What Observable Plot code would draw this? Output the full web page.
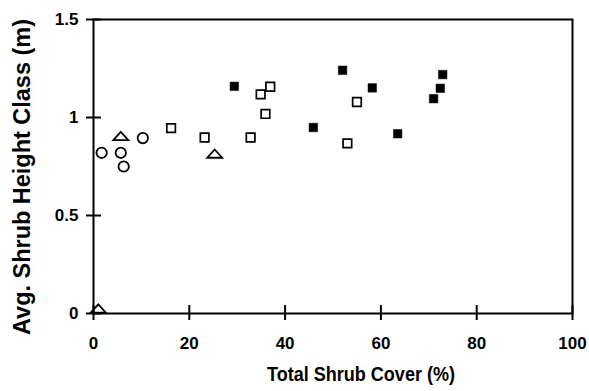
<!DOCTYPE html>
<html>
<head>
<meta charset="utf-8">
<script src="https://cdn.jsdelivr.net/npm/d3@7"></script>
<script src="https://cdn.jsdelivr.net/npm/@observablehq/plot@0.6"></script>
<style>
  html, body { margin: 0; padding: 0; background: #fff; }
  #chart { width: 589px; height: 391px; }
</style>
</head>
<body>
<div id="chart"></div>
<script>
const xLabel = "Total Shrub Cover (%)";
const yLabel = "Avg. Shrub Height Class (m)";
const xTicks = [0, 20, 40, 60, 80, 100];
const yTicks = [0, 0.5, 1, 1.5];
const yTickLabels = ["0", "0.5", "1", "1.5"];

const circleX = [1.7, 5.7, 6.3, 10.3];
const circleY = [0.82, 0.82, 0.75, 0.895];
const triangleX = [1.0, 5.7, 25.3];
const triangleY = [0.025, 0.905, 0.815];
const openSquareX = [16.2, 23.2, 32.8, 35.9, 34.9, 36.9, 55.0, 53.0];
const openSquareY = [0.946, 0.898, 0.898, 1.018, 1.118, 1.157, 1.079, 0.868];
const filledSquareX = [29.4, 45.9, 52.0, 58.2, 63.5, 72.9, 72.4, 71.0];
const filledSquareY = [1.159, 0.949, 1.241, 1.151, 0.917, 1.219, 1.149, 1.096];

const toRows = (xs, ys) => xs.map((x, i) => ({x, y: ys[i]}));
const circles = toRows(circleX, circleY);
const triangles = toRows(triangleX, triangleY);
const openSquares = toRows(openSquareX, openSquareY);
const filledSquares = toRows(filledSquareX, filledSquareY);

// flat open triangle symbol
const flatTriangle = {
  draw(context, size) {
    const r = Math.sqrt(size / Math.PI);
    context.moveTo(0, -0.85 * r);
    context.lineTo(1.5 * r, 0.8 * r);
    context.lineTo(-1.5 * r, 0.8 * r);
    context.closePath();
  }
};

const font = "bold";
const svg = Plot.plot({
  width: 589,
  height: 391,
  marginLeft: 93,
  marginRight: 17,
  marginTop: 19,
  marginBottom: 78,
  style: {fontFamily: "'Liberation Sans', Arial, sans-serif", background: "#fff", color: "#000"},
  x: {domain: [0, 100]},
  y: {domain: [0, 1.5]},
  marks: [
    Plot.frame({stroke: "black", strokeWidth: 2}),
    Plot.tickX(xTicks, {x: d => d, insetTop: 286, insetBottom: -7, stroke: "black", strokeWidth: 2}),
    Plot.tickY(yTicks, {y: d => d, insetLeft: -7, insetRight: 471, stroke: "black", strokeWidth: 2}),
    Plot.axisX(xTicks, {tickSize: 0, tickPadding: 23, fontSize: 17, fontWeight: font, label: null}),
    Plot.axisY(yTicks, {tickSize: 0, tickPadding: 15, fontSize: 17, fontWeight: font, label: null,
      tickFormat: d => yTickLabels[yTicks.indexOf(d)]}),
    Plot.dot(circles, {x: "x", y: "y", r: 5.2, symbol: "circle", fill: "none", stroke: "black", strokeWidth: 1.8}),
    Plot.dot(triangles, {x: "x", y: "y", r: 5, symbol: flatTriangle, fill: "none", stroke: "black", strokeWidth: 1.8}),
    Plot.dot(openSquares, {x: "x", y: "y", r: 4.85, symbol: "square", fill: "none", stroke: "black", strokeWidth: 1.7}),
    Plot.dot(filledSquares, {x: "x", y: "y", r: 4.8, symbol: "square", fill: "black", stroke: "black", strokeWidth: 0.5}),
    Plot.text([xLabel], {text: d => d, frameAnchor: "bottom", dx: 28, dy: 61, lineAnchor: "middle", textAnchor: "middle",
      fontSize: 21, fontWeight: font, fill: "black"}),
    Plot.text([yLabel], {text: d => d, frameAnchor: "left", rotate: -90, dx: -71, dy: 10.5, lineAnchor: "middle", textAnchor: "middle",
      fontSize: 23, fontWeight: font, fill: "black"})
  ]
});

d3.select(svg).selectAll("text").each(function() {
  if (this.textContent === xLabel) {
    d3.select(this).attr("textLength", 188).attr("lengthAdjust", "spacingAndGlyphs");
  } else if (this.textContent === yLabel) {
    d3.select(this).attr("textLength", 316).attr("lengthAdjust", "spacingAndGlyphs");
  }
});

document.getElementById("chart").appendChild(svg);
</script>
</body>
</html>
